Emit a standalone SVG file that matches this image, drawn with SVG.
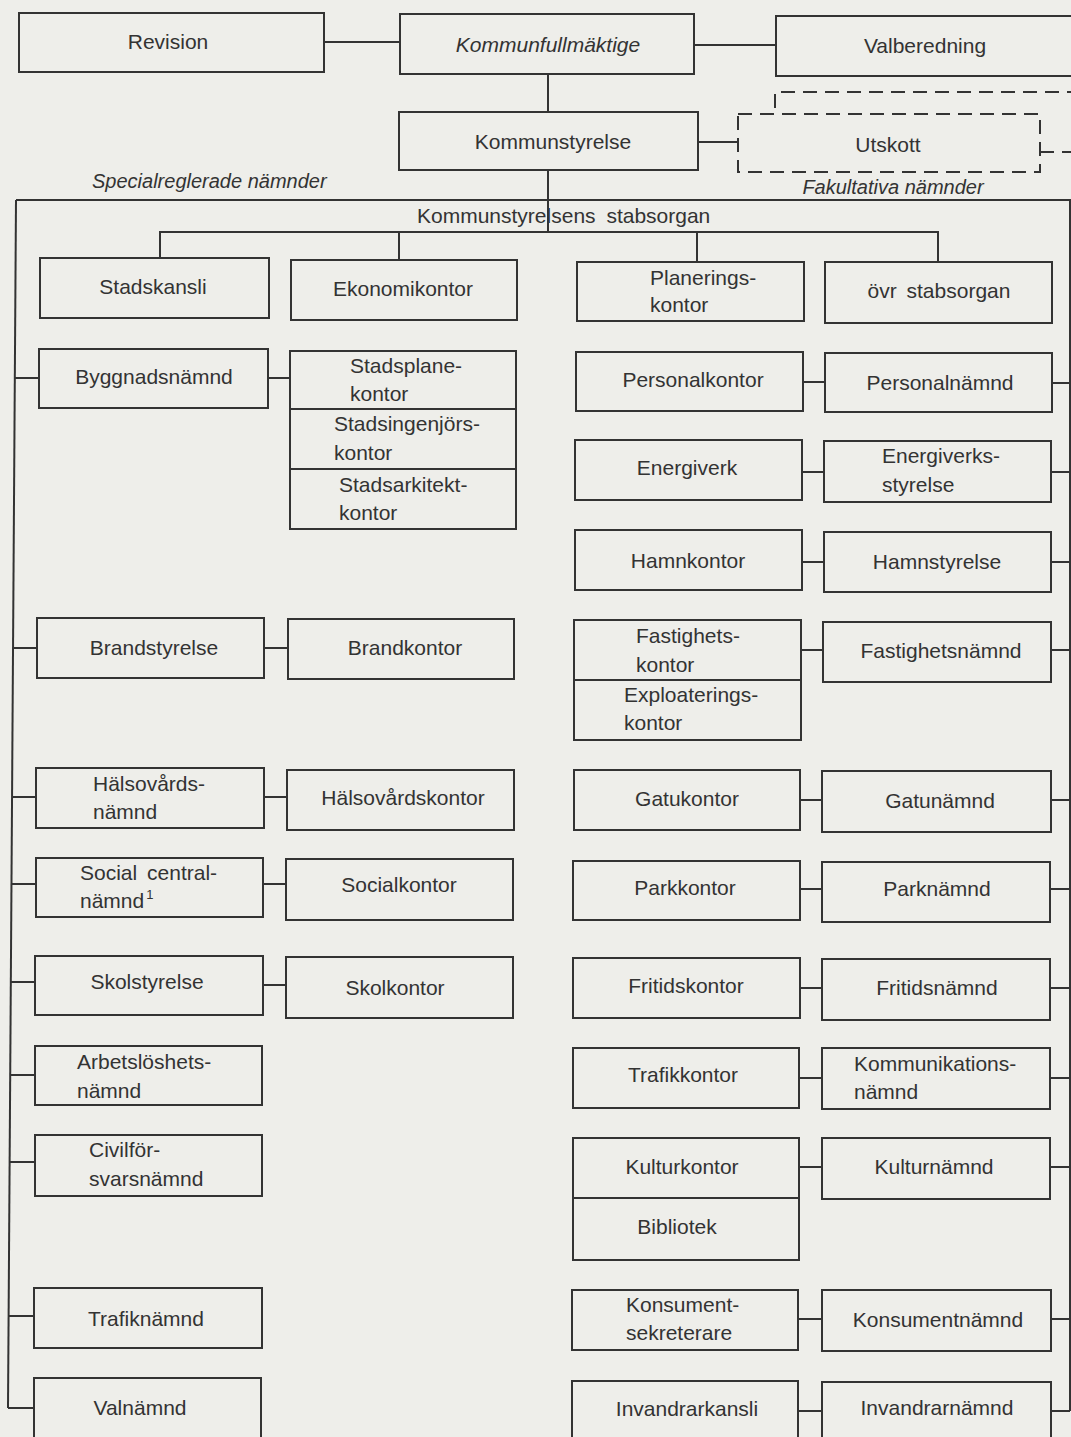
<svg xmlns="http://www.w3.org/2000/svg" width="1071" height="1437" viewBox="0 0 1071 1437">
<style>
.bg{fill:#eeeeea}
.box{fill:none;stroke:#333;stroke-width:2}
.dash{fill:none;stroke:#333;stroke-width:2;stroke-dasharray:14 8}
.ln{fill:none;stroke:#333;stroke-width:2}
text{font-family:"Liberation Sans",Arial,Helvetica,sans-serif;font-size:21px;fill:#333}
.c{text-anchor:middle}
.i{font-style:italic}
.s{font-size:20px}
</style>
<rect class="bg" x="0" y="0" width="1071" height="1437"/>

<g id="connectors">
  <line class="ln" x1="324" y1="42" x2="400" y2="42"/>
  <line class="ln" x1="694" y1="45" x2="776" y2="45"/>
  <line class="ln" x1="548" y1="74" x2="548" y2="112"/>
  <line class="ln" x1="698" y1="142" x2="738" y2="142"/>
  <path class="dash" d="M775,108 V92 H1071"/>
  <path class="dash" d="M1040,152 H1071"/>
  <line class="ln" x1="548" y1="170" x2="548" y2="232"/>
  <line class="ln" x1="16" y1="200" x2="1071" y2="200"/>
  <line class="ln" x1="16" y1="200" x2="8" y2="1408"/>
  <line class="ln" x1="1070" y1="200" x2="1070" y2="1411"/>
  <path class="ln" d="M160,258 V232 H938 V262"/>
  <line class="ln" x1="399" y1="232" x2="399" y2="260"/>
  <line class="ln" x1="697" y1="232" x2="697" y2="262"/>
  <line class="ln" x1="15" y1="378" x2="39" y2="378"/>
  <line class="ln" x1="268" y1="378" x2="290" y2="378"/>
  <line class="ln" x1="13" y1="648" x2="37" y2="648"/>
  <line class="ln" x1="264" y1="648" x2="288" y2="648"/>
  <line class="ln" x1="12" y1="797" x2="36" y2="797"/>
  <line class="ln" x1="264" y1="797" x2="287" y2="797"/>
  <line class="ln" x1="11.5" y1="884" x2="36" y2="884"/>
  <line class="ln" x1="263" y1="884" x2="286" y2="884"/>
  <line class="ln" x1="10.8" y1="982" x2="35" y2="982"/>
  <line class="ln" x1="263" y1="985" x2="286" y2="985"/>
  <line class="ln" x1="10.2" y1="1075" x2="35" y2="1075"/>
  <line class="ln" x1="9.6" y1="1162" x2="35" y2="1162"/>
  <line class="ln" x1="8.6" y1="1316" x2="34" y2="1316"/>
  <line class="ln" x1="8" y1="1408" x2="34" y2="1408"/>
  <line class="ln" x1="803" y1="382" x2="825" y2="382"/>
  <line class="ln" x1="1052" y1="383" x2="1070" y2="383"/>
  <line class="ln" x1="802" y1="472" x2="824" y2="472"/>
  <line class="ln" x1="1051" y1="472" x2="1070" y2="472"/>
  <line class="ln" x1="802" y1="562" x2="824" y2="562"/>
  <line class="ln" x1="1051" y1="562" x2="1070" y2="562"/>
  <line class="ln" x1="801" y1="650" x2="823" y2="650"/>
  <line class="ln" x1="1051" y1="650" x2="1070" y2="650"/>
  <line class="ln" x1="800" y1="800" x2="822" y2="800"/>
  <line class="ln" x1="1051" y1="800" x2="1070" y2="800"/>
  <line class="ln" x1="800" y1="889" x2="822" y2="889"/>
  <line class="ln" x1="1050" y1="889" x2="1070" y2="889"/>
  <line class="ln" x1="800" y1="988" x2="822" y2="988"/>
  <line class="ln" x1="1050" y1="988" x2="1070" y2="988"/>
  <line class="ln" x1="799" y1="1078" x2="822" y2="1078"/>
  <line class="ln" x1="1050" y1="1078" x2="1070" y2="1078"/>
  <line class="ln" x1="799" y1="1167" x2="822" y2="1167"/>
  <line class="ln" x1="1050" y1="1167" x2="1070" y2="1167"/>
  <line class="ln" x1="798" y1="1319" x2="822" y2="1319"/>
  <line class="ln" x1="1051" y1="1319" x2="1070" y2="1319"/>
  <line class="ln" x1="798" y1="1411" x2="822" y2="1411"/>
  <line class="ln" x1="1051" y1="1411" x2="1070" y2="1411"/>
</g>

<g id="labels">
  <text class="i s" x="92" y="188">Specialreglerade nämnder</text>
  <text class="i c s" x="893" y="194">Fakultativa nämnder</text>
  <text x="417" y="223" word-spacing="5">Kommunstyrelsens stabsorgan</text>
</g>

<g id="revision"><rect class="box" x="19" y="13" width="305" height="59"/><text class="c" x="168" y="49">Revision</text></g>
<g id="kommunfullmaktige"><rect class="box" x="400" y="14" width="294" height="60"/><text class="c i" x="548" y="52">Kommunfullmäktige</text></g>
<g id="valberedning"><rect class="box" x="776" y="16" width="310" height="60"/><text class="c" x="925" y="53">Valberedning</text></g>
<g id="kommunstyrelse"><rect class="box" x="399" y="112" width="299" height="58"/><text class="c" x="553" y="149">Kommunstyrelse</text></g>
<g id="utskott"><rect class="dash" x="738" y="114" width="302" height="58"/><text class="c" x="888" y="152">Utskott</text></g>

<g id="stadskansli"><rect class="box" x="40" y="258" width="229" height="60"/><text class="c" x="153" y="294">Stadskansli</text></g>
<g id="ekonomikontor"><rect class="box" x="291" y="260" width="226" height="60"/><text class="c" x="403" y="296">Ekonomikontor</text></g>
<g id="planeringskontor"><rect class="box" x="577" y="262" width="227" height="59"/><text x="650" y="285">Planerings-</text><text x="650" y="312">kontor</text></g>
<g id="ovr-stabsorgan"><rect class="box" x="825" y="262" width="227" height="61"/><text class="c" x="939" y="298" word-spacing="4">övr stabsorgan</text></g>

<g id="byggnadsnamnd"><rect class="box" x="39" y="349" width="229" height="59"/><text class="c" x="154" y="384">Byggnadsnämnd</text></g>
<g id="stadsplanekontor"><rect class="box" x="290" y="351" width="226" height="58"/><text x="350" y="373">Stadsplane-</text><text x="350" y="401">kontor</text></g>
<g id="stadsingenjorskontor"><rect class="box" x="290" y="409" width="226" height="60"/><text x="334" y="431">Stadsingenjörs-</text><text x="334" y="460">kontor</text></g>
<g id="stadsarkitektkontor"><rect class="box" x="290" y="469" width="226" height="60"/><text x="339" y="492">Stadsarkitekt-</text><text x="339" y="520">kontor</text></g>
<g id="personalkontor"><rect class="box" x="576" y="352" width="227" height="59"/><text class="c" x="693" y="387">Personalkontor</text></g>
<g id="personalnamnd"><rect class="box" x="825" y="353" width="227" height="59"/><text class="c" x="940" y="390">Personalnämnd</text></g>

<g id="energiverk"><rect class="box" x="575" y="440" width="227" height="60"/><text class="c" x="687" y="475">Energiverk</text></g>
<g id="energiverksstyrelse"><rect class="box" x="824" y="441" width="227" height="61"/><text x="882" y="463">Energiverks-</text><text x="882" y="492">styrelse</text></g>

<g id="hamnkontor"><rect class="box" x="575" y="530" width="227" height="60"/><text class="c" x="688" y="568">Hamnkontor</text></g>
<g id="hamnstyrelse"><rect class="box" x="824" y="532" width="227" height="60"/><text class="c" x="937" y="569">Hamnstyrelse</text></g>

<g id="brandstyrelse"><rect class="box" x="37" y="618" width="227" height="60"/><text class="c" x="154" y="655">Brandstyrelse</text></g>
<g id="brandkontor"><rect class="box" x="288" y="619" width="226" height="60"/><text class="c" x="405" y="655">Brandkontor</text></g>
<g id="fastighetskontor"><rect class="box" x="574" y="620" width="227" height="60"/><text x="636" y="643">Fastighets-</text><text x="636" y="672">kontor</text></g>
<g id="exploateringskontor"><rect class="box" x="574" y="680" width="227" height="60"/><text x="624" y="702">Exploaterings-</text><text x="624" y="730">kontor</text></g>
<g id="fastighetsnamnd"><rect class="box" x="823" y="622" width="228" height="60"/><text class="c" x="941" y="658">Fastighetsnämnd</text></g>

<g id="halsovardsnamnd"><rect class="box" x="36" y="768" width="228" height="60"/><text x="93" y="791">Hälsovårds-</text><text x="93" y="819">nämnd</text></g>
<g id="halsovardskontor"><rect class="box" x="287" y="770" width="227" height="60"/><text class="c" x="403" y="805">Hälsovårdskontor</text></g>
<g id="gatukontor"><rect class="box" x="574" y="770" width="226" height="60"/><text class="c" x="687" y="806">Gatukontor</text></g>
<g id="gatunamnd"><rect class="box" x="822" y="771" width="229" height="61"/><text class="c" x="940" y="808">Gatunämnd</text></g>

<g id="socialcentralnamnd"><rect class="box" x="36" y="858" width="227" height="59"/><text x="80" y="880" word-spacing="4">Social central-</text><text x="80" y="908">nämnd<tspan font-size="13" dx="2" dy="-9">1</tspan></text></g>
<g id="socialkontor"><rect class="box" x="286" y="859" width="227" height="61"/><text class="c" x="399" y="892">Socialkontor</text></g>
<g id="parkkontor"><rect class="box" x="573" y="861" width="227" height="59"/><text class="c" x="685" y="895">Parkkontor</text></g>
<g id="parknamnd"><rect class="box" x="822" y="862" width="228" height="60"/><text class="c" x="937" y="896">Parknämnd</text></g>

<g id="skolstyrelse"><rect class="box" x="35" y="956" width="228" height="59"/><text class="c" x="147" y="989">Skolstyrelse</text></g>
<g id="skolkontor"><rect class="box" x="286" y="957" width="227" height="61"/><text class="c" x="395" y="995">Skolkontor</text></g>
<g id="fritidskontor"><rect class="box" x="573" y="958" width="227" height="60"/><text class="c" x="686" y="993">Fritidskontor</text></g>
<g id="fritidsnamnd"><rect class="box" x="822" y="959" width="228" height="61"/><text class="c" x="937" y="995">Fritidsnämnd</text></g>

<g id="arbetsloshetsnamnd"><rect class="box" x="35" y="1046" width="227" height="59"/><text x="77" y="1069">Arbetslöshets-</text><text x="77" y="1098">nämnd</text></g>
<g id="trafikkontor"><rect class="box" x="573" y="1048" width="226" height="60"/><text class="c" x="683" y="1082">Trafikkontor</text></g>
<g id="kommunikationsnamnd"><rect class="box" x="822" y="1048" width="228" height="61"/><text x="854" y="1071">Kommunikations-</text><text x="854" y="1099">nämnd</text></g>

<g id="civilforsvarsnamnd"><rect class="box" x="35" y="1135" width="227" height="61"/><text x="89" y="1157">Civilför-</text><text x="89" y="1186">svarsnämnd</text></g>
<g id="kulturkontor"><rect class="box" x="573" y="1138" width="226" height="60"/><text class="c" x="682" y="1174">Kulturkontor</text></g>
<g id="bibliotek"><rect class="box" x="573" y="1198" width="226" height="62"/><text class="c" x="677" y="1234">Bibliotek</text></g>
<g id="kulturnamnd"><rect class="box" x="822" y="1138" width="228" height="61"/><text class="c" x="934" y="1174">Kulturnämnd</text></g>

<g id="trafiknamnd"><rect class="box" x="34" y="1288" width="228" height="60"/><text class="c" x="146" y="1326">Trafiknämnd</text></g>
<g id="konsumentsekreterare"><rect class="box" x="572" y="1290" width="226" height="60"/><text x="626" y="1312">Konsument-</text><text x="626" y="1340">sekreterare</text></g>
<g id="konsumentnamnd"><rect class="box" x="822" y="1290" width="229" height="61"/><text class="c" x="938" y="1327">Konsumentnämnd</text></g>

<g id="valnamnd"><rect class="box" x="34" y="1378" width="227" height="70"/><text class="c" x="140" y="1415">Valnämnd</text></g>
<g id="invandrarkansli"><rect class="box" x="572" y="1381" width="226" height="70"/><text class="c" x="687" y="1416">Invandrarkansli</text></g>
<g id="invandrarnamnd"><rect class="box" x="822" y="1382" width="229" height="70"/><text class="c" x="937" y="1415">Invandrarnämnd</text></g>
</svg>
